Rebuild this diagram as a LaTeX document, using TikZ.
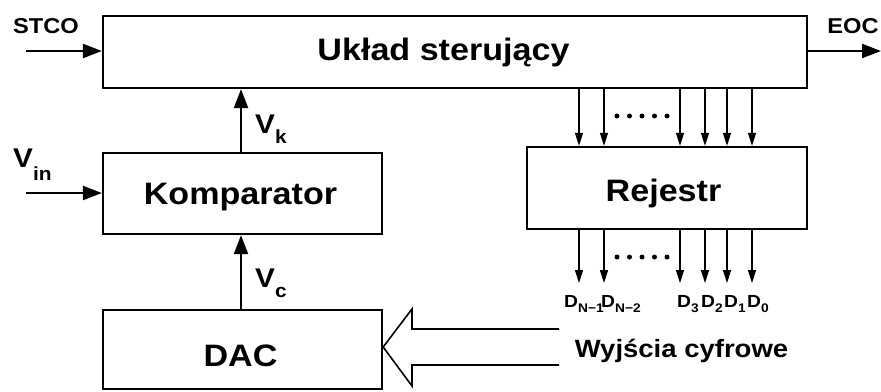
\documentclass[tikz,border=0pt]{standalone}
\usepackage{fontspec}
\setmainfont{Liberation Sans}[FakeStretch=1.1]
\usetikzlibrary{arrows.meta}
\newcommand\fs[1]{\fontsize{#1}{#1}\selectfont}
\newcommand\lsub[4]{#1\raisebox{-#4pt}{\fs{#3}#2}}
\begin{document}
\begin{tikzpicture}[x=1pt,y=-1pt,
  box/.style={draw,line width=2.3pt,inner sep=0pt},
  thickarr/.style={line width=2.3pt,-{Triangle[length=19pt,width=14pt]}},
  thinarr/.style={line width=1.2pt,-{Triangle[length=13pt,width=8pt]}},
  big/.style={font=\bfseries\fs{31},inner sep=0pt,anchor=base},
  lbl/.style={font=\bfseries\fs{21.5},inner sep=0pt,anchor=base},
  vlbl/.style={font=\bfseries\fs{27},inner sep=0pt,anchor=base west},
  dlbl/.style={font=\bfseries\fs{17.5},inner sep=0pt,anchor=base west},
  dot/.style={fill,circle,inner sep=0pt,minimum size=5pt}]
\useasboundingbox (0,0) rectangle (881,391);

% boxes
\node[box,minimum width=704pt,minimum height=72pt] (ctrl) at (455,52) {};
\node[big] (ctrltxt) at (443.5,60) {Układ sterujący};
\node[box,minimum width=279pt,minimum height=81pt] (komp) at (242.5,193.5) {};
\node[big] (komptxt) at (240.5,204) {Komparator};
\node[box,minimum width=279pt,minimum height=79pt] (dac) at (242.5,349.5) {};
\node[big] (dactxt) at (240.5,366) {DAC};
\node[box,minimum width=280pt,minimum height=82pt] (rej) at (667,188) {};
\node[big] (rejtxt) at (663.5,201.5) {Rejestr};

% STCO / EOC
\node[lbl] (stco) at (46,33) {STCO};
\coordinate (stcoin) at (26,51);
\draw[thickarr] (stcoin) -- (stcoin -| ctrl.west);
\node[lbl] (eoc) at (853,33) {EOC};
\coordinate (eocout) at (881,51);
\draw[thickarr] (eocout -| ctrl.east) -- (eocout);

% Vin
\node[vlbl] (vin) at (13,167) {\lsub{V}{in}{19}{13}};
\coordinate (vinin) at (26,193);
\draw[thickarr] (vinin) -- (vinin -| komp.west);

% Vk, Vc
\draw[thickarr] (241,0 |- komp.north) -- (241,0 |- ctrl.south);
\node[vlbl] (vk) at (255,133) {\lsub{V}{k}{19}{10}};
\draw[thickarr] (241,0 |- dac.north) -- (241,0 |- komp.south);
\node[vlbl] (vc) at (255,287) {\lsub{V}{c}{19}{10}};

% bus arrows
\foreach \x/\i in {579/1,604/2,680/3,705/4,727/5,752/6}{
  \draw[thinarr] (\x,0 |- ctrl.south) -- (\x,0 |- rej.north);
  \coordinate (dout\i) at (\x,283);
  \draw[thinarr] (\x,0 |- rej.south) -- (dout\i);
}
\foreach \x in {617,629.5,642,654.5,667}{
  \node[dot] at (\x,116) {};
  \node[dot] at (\x,257) {};
}

% D labels
\node[dlbl] (dn1) at (564,307) {\lsub{D}{N−1}{12.5}{5}};
\node[dlbl] (dn2) at (601,307) {\lsub{D}{N−2}{12.5}{5}};
\node[dlbl] (d3) at (677,307) {\lsub{D}{3}{12.5}{5}};
\node[dlbl] (d2) at (701,307) {\lsub{D}{2}{12.5}{5}};
\node[dlbl] (d1) at (724,307) {\lsub{D}{1}{12.5}{5}};
\node[dlbl] (d0) at (747,307) {\lsub{D}{0}{12.5}{5}};

% hollow arrow
\draw[line width=1.6pt,line join=miter] (559,329) -- (412,329) -- (412,309) -- (dac.east |- 0,347) -- (412,386) -- (412,365) -- (559,365);
\node[font=\bfseries\fs{25},inner sep=0pt,anchor=base] (wy) at (681.5,357) {Wyjścia cyfrowe};
\end{tikzpicture}
\end{document}
